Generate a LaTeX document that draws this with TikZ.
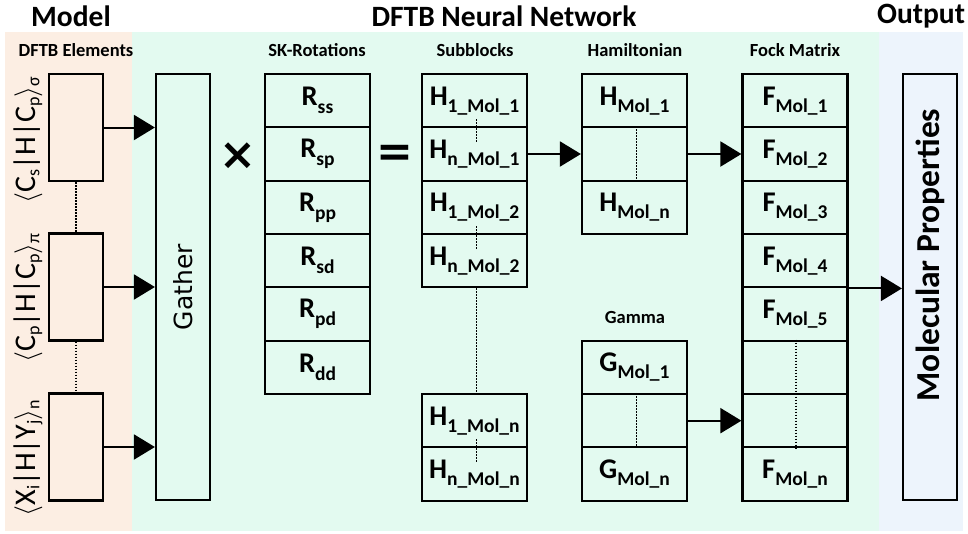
\documentclass[tikz,border=0pt]{standalone}
\usepackage{fontspec}
\setmainfont{Carlito}
\newfontfamily\dejavu{DejaVu Sans}
\usetikzlibrary{arrows.meta}
\definecolor{bgpeach}{RGB}{252,238,227}
\definecolor{bggreen}{RGB}{227,250,240}
\definecolor{bgblue}{RGB}{237,244,252}
\newcommand\cl[3]{{\fontsize{28.5}{28}\selectfont\bfseries #1}\raisebox{-#3pt}{\fontsize{19.5}{19}\selectfont\bfseries #2}}
\newcommand\lsub[1]{\raisebox{-4pt}{\fontsize{18}{18}\selectfont #1}}
\newcommand\lang{{\fontsize{10}{10}\selectfont\scalebox{2.8}{$\langle$}}}
\newcommand\rang{{\fontsize{10}{10}\selectfont\scalebox{2.8}{$\rangle$}}}
\begin{document}
\begin{tikzpicture}[x=1pt,y=-1pt,
  box/.style={draw=black, line width=2.2pt, inner sep=0pt},
  cell/.style={box, minimum width=105pt, minimum height=53.33pt},
  tall/.style={box, minimum width=54pt, minimum height=426pt},
  elem/.style={box, minimum width=54pt, minimum height=107pt},
  title/.style={font=\fontsize{29.5}{29}\selectfont\bfseries},
  hdr/.style={font=\fontsize{18.5}{18}\selectfont\bfseries},
  lbl/.style={rotate=90, font=\fontsize{30}{30}\selectfont, inner sep=0pt},
  arr/.style={line width=2pt, -{Triangle[length=21pt,width=25pt]}},
  dots/.style={line width=1.7pt, dash pattern=on 1.6pt off 1.4pt}]
\useasboundingbox (0,0) rectangle (968,533);
\fill[bgpeach] (5,32) rectangle (132,531);
\fill[bggreen] (132,32) rectangle (879,531);
\fill[bgblue] (879,32) rectangle (963,531);
% titles
\node[title] (tmodel) at (71,16) {Model};
\node[title] (tnet) at (504,16) {DFTB Neural Network};
\node[title] (tout) at (921,16) {Output};
\node[hdr] (hel) at (76,50) {DFTB Elements};
\node[hdr] (hsk) at (317,50) {SK-Rotations};
\node[hdr] (hsub) at (475,50) {Subblocks};
\node[hdr] (hham) at (635,50) {Hamiltonian};
\node[hdr] (hfock) at (795,50) {Fock Matrix};
\node[hdr] (hgam) at (635,317) {Gamma};
% DFTB elements
\node[elem] (b1) at (76,127.5) {};
\node[elem] (b2) at (76,287) {};
\node[elem] (b3) at (76,447) {};
\node[lbl] (l1) at (28,140) {\lang C\lsub{s}|H|C\lsub{p}\rang\lsub{σ}};
\node[lbl] (l2) at (28,298) {\lang C\lsub{p}|H|C\lsub{p}\rang\lsub{π}};
\node[lbl] (l3) at (28,458) {\lang X\lsub{i}|H|Y\lsub{j}\rang\lsub{n}};
\draw[dots] (b1.south) -- (b2.north);
\draw[dots] (b2.south) -- (b3.north);
% gather
\node[tall] (ga) at (183,287) {};
\node[rotate=90, font=\dejavu\fontsize{25}{25}\selectfont] (gt) at (183,287) {Gather};
\draw[arr] (b1.east) -- (b1.east -| ga.west);
\draw[arr] (b2.east) -- (b2.east -| ga.west);
\draw[arr] (b3.east) -- (b3.east -| ga.west);
\node[font=\dejavu\bfseries\fontsize{44}{44}\selectfont] (times) at (238,156) {×};
\node[font=\dejavu\bfseries\fontsize{44}{44}\selectfont] (eq) at (395,156) {=};
% SK rotations
\node[cell] (r0) at (317.5,100.67) {\cl{R}{ss}{8}};
\node[cell] (r1) at (317.5,154) {\cl{R}{sp}{8}};
\node[cell] (r2) at (317.5,207.33) {\cl{R}{pp}{8}};
\node[cell] (r3) at (317.5,260.67) {\cl{R}{sd}{8}};
\node[cell] (r4) at (317.5,314) {\cl{R}{pd}{8}};
\node[cell] (r5) at (317.5,367.33) {\cl{R}{dd}{8}};
% subblocks
\node[cell] (s0) at (474.5,100.67) {\cl{H}{1\_Mol\_1}{7}};
\node[cell] (s1) at (474.5,154) {\cl{H}{n\_Mol\_1}{7}};
\node[cell] (s2) at (474.5,207.33) {\cl{H}{1\_Mol\_2}{7}};
\node[cell] (s3) at (474.5,260.67) {\cl{H}{n\_Mol\_2}{7}};
\node[cell] (s6) at (474.5,420.67) {\cl{H}{1\_Mol\_n}{7}};
\node[cell] (s7) at (474.5,474) {\cl{H}{n\_Mol\_n}{7}};
\draw[dots] ([xshift=2pt,yshift=9pt]s0.south) -- ([xshift=2pt,yshift=-14pt]s0.south);
\draw[dots] ([xshift=2pt,yshift=9pt]s2.south) -- ([xshift=2pt,yshift=-14pt]s2.south);
\draw[dots] ([xshift=2pt,yshift=9pt]s6.south) -- ([xshift=2pt,yshift=-14pt]s6.south);
\draw[dots] ([xshift=2pt]s3.south) -- ([xshift=2pt]s6.north);
% hamiltonian
\node[cell] (h0) at (634.5,100.67) {\cl{H}{Mol\_1}{7}};
\node[cell] (h1) at (634.5,154) {};
\node[cell] (h2) at (634.5,207.33) {\cl{H}{Mol\_n}{7}};
\draw[dots] ([xshift=2pt]h1.north) -- ([xshift=2pt]h1.south);
% gamma
\node[cell] (g0) at (634.5,367.33) {\cl{G}{Mol\_1}{7}};
\node[cell] (g1) at (634.5,420.67) {};
\node[cell] (g2) at (634.5,474) {\cl{G}{Mol\_n}{7}};
\draw[dots] ([xshift=2pt]g1.north) -- ([xshift=2pt]g1.south);
% fock
\node[cell] (f0) at (795,100.67) {\cl{F}{Mol\_1}{7}};
\node[cell] (f1) at (795,154) {\cl{F}{Mol\_2}{7}};
\node[cell] (f2) at (795,207.33) {\cl{F}{Mol\_3}{7}};
\node[cell] (f3) at (795,260.67) {\cl{F}{Mol\_4}{7}};
\node[cell] (f4) at (795,314) {\cl{F}{Mol\_5}{7}};
\node[cell] (f5) at (795,367.33) {};
\node[cell] (f6) at (795,420.67) {};
\node[cell] (f7) at (795,474) {\cl{F}{Mol\_n}{7}};
\draw[dots] ([xshift=1pt]f5.north) -- ([xshift=1pt]f6.south);
% output
\node[tall] (mp) at (930,287) {};
\node[rotate=90, font=\fontsize{33.5}{33}\selectfont\bfseries] (mpt) at (930,255) {Molecular Properties};
% arrows
\draw[arr] (s1.east) -- (h1.west);
\draw[arr] (h1.east) -- (f1.west);
\draw[arr] (g1.east) -- (f6.west);
\draw[arr] (f3.south east) -- (f3.south east -| mp.west);
\end{tikzpicture}
\end{document}
